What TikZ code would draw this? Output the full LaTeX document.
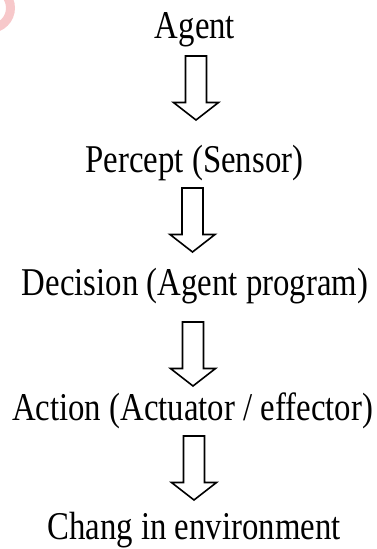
\documentclass[tikz,border=0pt]{standalone}
\usepackage{fontspec}
\setmainfont{Liberation Serif}
\definecolor{markpink}{HTML}{F7C8CA}
\newcommand{\tallset}[1]{\scalebox{1}[1.2]{#1}}
\tikzset{
  stage/.style={anchor=base, inner sep=0pt,
    font=\fontsize{32.8bp}{40bp}\selectfont},
  outline/.style={draw=black, line width=1.6bp, line join=miter, fill=white},
  pics/blockarrow/.style={code={
    \draw[outline] (-10.5,0) -- (10.5,0) -- (10.5,46.5) -- (22.5,46.5)
      -- (0,64) -- (-22.5,46.5) -- (-10.5,46.5) -- cycle;
  }}
}
\begin{document}
\begin{tikzpicture}[x=1bp, y=-1bp]
  \useasboundingbox (0,0) rectangle (376,549);
  % corner mark
  \begin{scope}
    \clip (0,0) rectangle (376,549);
    \fill[markpink, even odd rule] (-10,8) circle (25) (-10,8) circle (16);
  \end{scope}
  % stages of the chain
  \node[stage] (agent)    at (195,39)    {\tallset{Agent}};
  \node[stage] (percept)  at (194.5,173) {\tallset{Percept (Sensor)}};
  \node[stage] (decision) at (195,295)   {\tallset{Decision (Agent program)}};
  \node[stage] (action)   at (192.5,420) {\tallset{Action (Actuator / effector)}};
  \node[stage] (change)   at (194,539)   {\tallset{Chang in environment}};
  % hollow arrows between stages
  \pic (a1) at (196,56)    {blockarrow};
  \pic (a2) at (192.5,188) {blockarrow};
  \pic (a3) at (193,322)   {blockarrow};
  \pic (a4) at (194,436)   {blockarrow};
\end{tikzpicture}
\end{document}
